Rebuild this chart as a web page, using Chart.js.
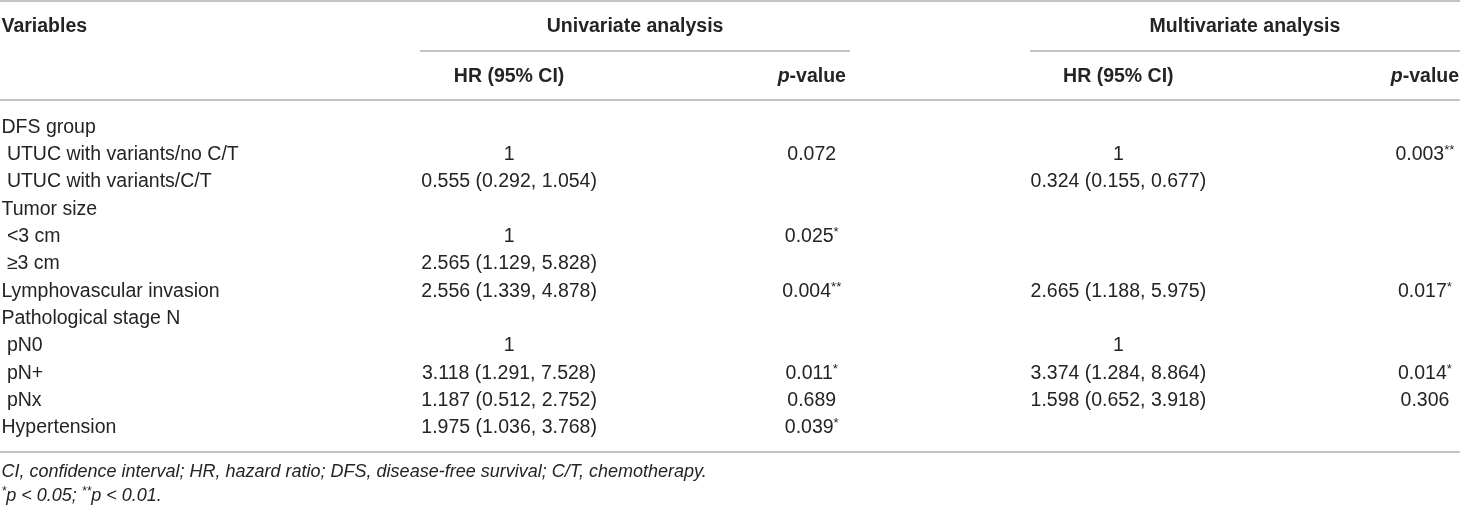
<!DOCTYPE html>
<html>
<head>
<meta charset="utf-8">
<script src="https://cdn.jsdelivr.net/npm/chart.js@4.4.0/dist/chart.umd.min.js"></script>
<style>
  html, body { margin: 0; padding: 0; background: #ffffff; }
  #wrap { width: 1460px; height: 509px; position: relative; }
</style>
</head>
<body>
<div id="wrap"><canvas id="c"></canvas></div>
<script>
// ---------- DATA ----------
const variables = [
  'DFS group',
  ' UTUC with variants/no C/T',
  ' UTUC with variants/C/T',
  'Tumor size',
  ' <3 cm',
  ' \u22653 cm',
  'Lymphovascular invasion',
  'Pathological stage N',
  ' pN0',
  ' pN+',
  ' pNx',
  'Hypertension'
];
const uniHR = ['', '1', '0.555 (0.292, 1.054)', '', '1', '2.565 (1.129, 5.828)', '2.556 (1.339, 4.878)', '', '1', '3.118 (1.291, 7.528)', '1.187 (0.512, 2.752)', '1.975 (1.036, 3.768)'];
const uniP = ['', '0.072', '', '', '0.025*', '', '0.004**', '', '', '0.011*', '0.689', '0.039*'];
const multiHR = ['', '1', '0.324 (0.155, 0.677)', '', '', '', '2.665 (1.188, 5.975)', '', '1', '3.374 (1.284, 8.864)', '1.598 (0.652, 3.918)', ''];
const multiP = ['', '0.003**', '', '', '', '', '0.017*', '', '', '0.014*', '0.306', ''];

const headerVariables = 'Variables';
const groupHeaders = ['Univariate analysis', 'Multivariate analysis'];
const colHeaderHR = 'HR (95% CI)';
const colHeaderP = 'p-value';
const footnote1 = 'CI, confidence interval; HR, hazard ratio; DFS, disease-free survival; C/T, chemotherapy.';
const footnote2 = '*p < 0.05; **p < 0.01.';

// ---------- LAYOUT (positions in scale units) ----------
const L = {
  colVar: 0.1, colUniHR: 34.87, colUniP: 55.6, colMulHR: 76.6, colMulP: 97.6,
  uniCenter: 43.5, mulCenter: 85.27,
  yVarHead: -3.67, yColHead: -1.85,
  yTop: -4.61, yGroupRule: -2.78, yHeadRule: -0.99, yBottom: 11.87,
  yFoot1: 12.6, yFoot2: 13.47,
  uniRule: [28.77, 58.22], mulRule: [70.55, 100]
};
const FONT_FAMILY = '"Liberation Sans", Arial, Helvetica, sans-serif';
const FS = 19.5;
const FOOT_FS = 18;
const TEXT_COLOR = '#262324';
const RULE_COLOR = '#c4c4c4';

function cellPoints(arr, x) {
  return arr.map((t, i) => ({ x: x, y: i, t: t })).filter(p => p.t !== '');
}

function fontStr(seg) {
  const base = seg.size || FS;
  const size = seg.sup ? base * 0.68 : base;
  return (seg.italic ? 'italic ' : '') + (seg.bold ? 'bold ' : '') + size + 'px ' + FONT_FAMILY;
}

// split a string into segments with superscript asterisks
function parseStars(text, base) {
  const segs = [];
  const re = /(\*+)|([^*]+)/g;
  let m;
  while ((m = re.exec(text)) !== null) {
    if (m[1]) segs.push(Object.assign({}, base, { t: m[1], sup: true }));
    else segs.push(Object.assign({}, base, { t: m[2] }));
  }
  return segs;
}

function drawSegs(ctx, segs, x, y, align) {
  let total = 0;
  segs.forEach(s => { ctx.font = fontStr(s); s.w = ctx.measureText(s.t).width; total += s.w; });
  let sx = x;
  if (align === 'center') sx = x - total / 2;
  else if (align === 'right') sx = x - total;
  ctx.textAlign = 'left';
  ctx.textBaseline = 'middle';
  ctx.fillStyle = TEXT_COLOR;
  segs.forEach(s => {
    ctx.font = fontStr(s);
    ctx.fillText(s.t, sx, s.sup ? y - (s.size || FS) * 0.22 : y);
    sx += s.w;
  });
}

const tablePlugin = {
  id: 'tableText',
  afterDatasetsDraw(chart) {
    const ctx = chart.ctx;
    const xs = chart.scales.x, ys = chart.scales.y;
    const X = v => xs.getPixelForValue(v);
    const Y = v => ys.getPixelForValue(v);
    ctx.save();
    // rules
    ctx.strokeStyle = RULE_COLOR;
    ctx.lineWidth = 2;
    const rules = [
      [0, 100, L.yTop], [L.uniRule[0], L.uniRule[1], L.yGroupRule], [L.mulRule[0], L.mulRule[1], L.yGroupRule],
      [0, 100, L.yHeadRule], [0, 100, L.yBottom]
    ];
    rules.forEach(r => {
      const y = Math.round(Y(r[2]));
      ctx.beginPath(); ctx.moveTo(X(r[0]), y); ctx.lineTo(X(r[1]), y); ctx.stroke();
    });
    // headers
    drawSegs(ctx, [{ t: headerVariables, bold: true }], X(L.colVar), Y(L.yVarHead), 'left');
    drawSegs(ctx, [{ t: groupHeaders[0], bold: true }], X(L.uniCenter), Y(L.yVarHead), 'center');
    drawSegs(ctx, [{ t: groupHeaders[1], bold: true }], X(L.mulCenter), Y(L.yVarHead), 'center');
    const pHead = () => [{ t: colHeaderP.slice(0, 1), bold: true, italic: true }, { t: colHeaderP.slice(1), bold: true }];
    drawSegs(ctx, [{ t: colHeaderHR, bold: true }], X(L.colUniHR), Y(L.yColHead), 'center');
    drawSegs(ctx, pHead(), X(L.colUniP), Y(L.yColHead), 'center');
    drawSegs(ctx, [{ t: colHeaderHR, bold: true }], X(L.colMulHR), Y(L.yColHead), 'center');
    drawSegs(ctx, pHead(), X(L.colMulP), Y(L.yColHead), 'center');
    // body cells from dataset elements
    chart.data.datasets.forEach((ds, di) => {
      const meta = chart.getDatasetMeta(di);
      meta.data.forEach((el, j) => {
        const t = ds.data[j].t;
        drawSegs(ctx, parseStars(t, {}), el.x, el.y, ds.cellAlign);
      });
    });
    // footnotes
    drawSegs(ctx, [{ t: footnote1, italic: true, size: FOOT_FS }], X(L.colVar), Y(L.yFoot1), 'left');
    drawSegs(ctx, parseStars(footnote2, { italic: true, size: FOOT_FS }), X(L.colVar), Y(L.yFoot2), 'left');
    ctx.restore();
  }
};

const pointStyle = { pointRadius: 0, pointHoverRadius: 0, showLine: false };

new Chart(document.getElementById('c'), {
  type: 'scatter',
  data: {
    datasets: [
      Object.assign({ label: 'Variables', data: cellPoints(variables, L.colVar), cellAlign: 'left' }, pointStyle),
      Object.assign({ label: 'Univariate HR', data: cellPoints(uniHR, L.colUniHR), cellAlign: 'center' }, pointStyle),
      Object.assign({ label: 'Univariate p', data: cellPoints(uniP, L.colUniP), cellAlign: 'center' }, pointStyle),
      Object.assign({ label: 'Multivariate HR', data: cellPoints(multiHR, L.colMulHR), cellAlign: 'center' }, pointStyle),
      Object.assign({ label: 'Multivariate p', data: cellPoints(multiP, L.colMulP), cellAlign: 'center' }, pointStyle)
    ]
  },
  options: {
    responsive: true,
    maintainAspectRatio: false,
    animation: false,
    events: [],
    layout: { padding: 0 },
    plugins: { legend: { display: false }, tooltip: { enabled: false } },
    scales: {
      x: { type: 'linear', min: 0, max: 100, display: false },
      y: { type: 'linear', min: -4.65, max: 13.96, reverse: true, display: false }
    }
  },
  plugins: [tablePlugin]
});
</script>
</body>
</html>
